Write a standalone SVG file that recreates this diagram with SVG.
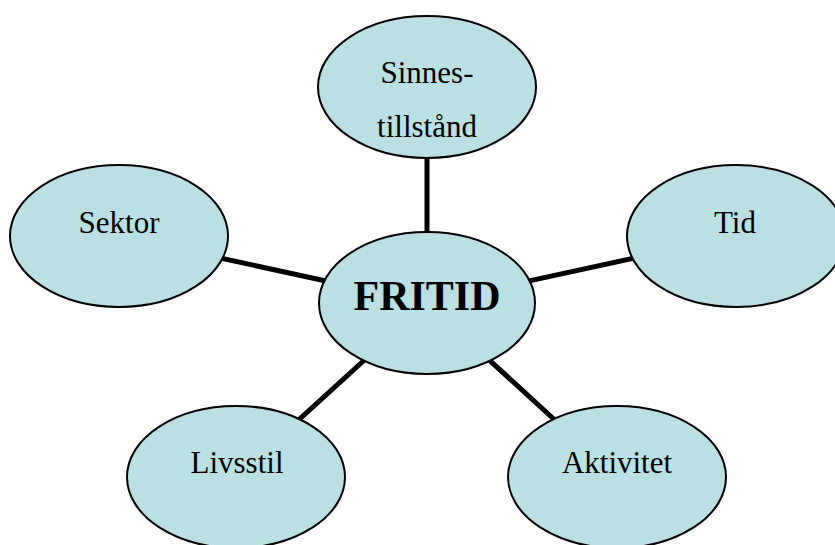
<svg xmlns="http://www.w3.org/2000/svg" width="835" height="545" viewBox="0 0 835 545">
<style>
.n{fill:#BAE0E3;stroke:#000;stroke-width:2}
.t{font-family:"Liberation Serif","Times New Roman",serif;font-size:31px;fill:#000;text-anchor:middle}
.b{font-weight:bold;font-size:42px}
.c{stroke:#000;stroke-width:5;fill:none}
</style>
<rect width="835" height="545" fill="#fff"/>
<g id="connectors">
<line class="c" x1="427" y1="87" x2="427" y2="303"/>
<line class="c" x1="119" y1="236" x2="427" y2="303"/>
<line class="c" x1="736" y1="236" x2="427" y2="303"/>
<line class="c" x1="236" y1="477" x2="427" y2="303"/>
<line class="c" x1="617" y1="477" x2="427" y2="303"/>
</g>
<g id="sinnes">
<ellipse class="n" cx="427" cy="87" rx="109" ry="71"/>
<text class="t" x="427" y="83">Sinnes-</text>
<text class="t" x="427" y="137">tillstånd</text>
</g>
<g id="sektor">
<ellipse class="n" cx="119" cy="236" rx="109" ry="71"/>
<text class="t" x="119" y="233">Sektor</text>
</g>
<g id="tid">
<ellipse class="n" cx="736" cy="236" rx="109" ry="71"/>
<text class="t" x="735" y="233">Tid</text>
</g>
<g id="fritid">
<ellipse class="n" cx="427" cy="303" rx="108" ry="71"/>
<text class="t b" x="427" y="310">FRITID</text>
</g>
<g id="livsstil">
<ellipse class="n" cx="236" cy="477" rx="109" ry="71"/>
<text class="t" x="237" y="473">Livsstil</text>
</g>
<g id="aktivitet">
<ellipse class="n" cx="617" cy="477" rx="109" ry="71"/>
<text class="t" x="617" y="473">Aktivitet</text>
</g>
</svg>
